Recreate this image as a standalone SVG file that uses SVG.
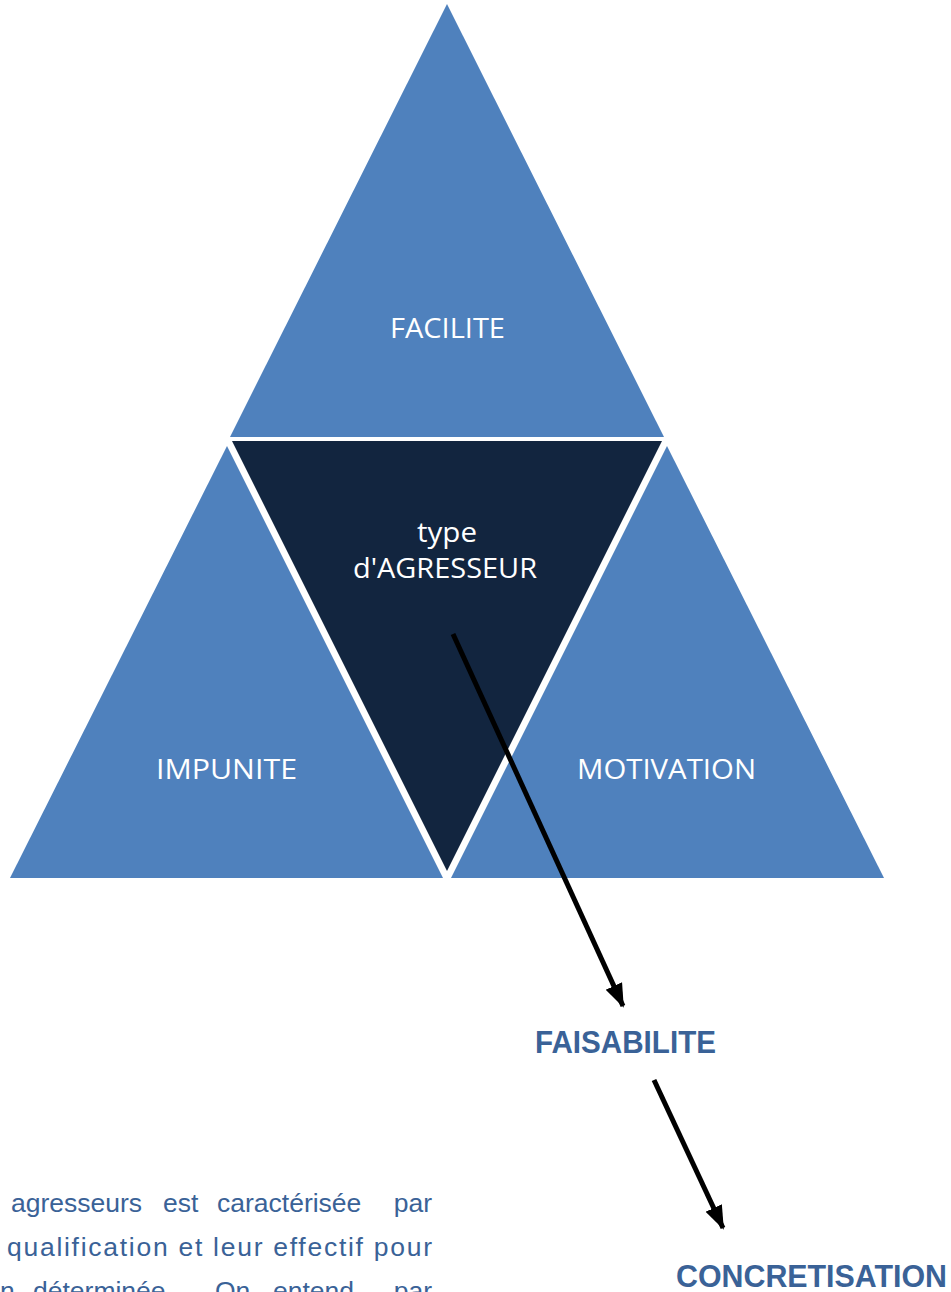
<svg xmlns="http://www.w3.org/2000/svg" width="951" height="1292" viewBox="0 0 951 1292">
<defs>
<style>
.tri{fill:#4F81BD;}
.dark{fill:#12253F;}
.lbl{font-family:"Open Sans","Liberation Sans",Arial,sans-serif;font-size:27px;fill:#FFFFFF;text-anchor:middle;}
.out{font-family:"Liberation Sans",Arial,sans-serif;font-size:31px;font-weight:bold;fill:#3A6297;text-anchor:middle;}
.para{font-family:"Liberation Sans",Arial,sans-serif;font-size:26.5px;fill:#3A6297;}
.end{text-anchor:end;}
.conn{stroke:#000000;stroke-width:5;fill:none;}
</style>
<marker id="ah" markerUnits="userSpaceOnUse" markerWidth="24" markerHeight="24" viewBox="0 0 24 24" refX="22" refY="12" orient="auto">
<path d="M0,3 L24,12 L0,21 Z" fill="#000000"/>
</marker>
</defs>
<rect width="951" height="1292" fill="#FFFFFF"/>
<g id="facilite">
<polygon class="tri" points="447,4 230,437 664,437"/>
<text class="lbl" x="447.5" y="338" textLength="115" lengthAdjust="spacingAndGlyphs">FACILITE</text>
</g>
<g id="impunite">
<polygon class="tri" points="227,446 10,878 443,878"/>
<text class="lbl" x="226.5" y="779" textLength="141" lengthAdjust="spacingAndGlyphs">IMPUNITE</text>
</g>
<g id="motivation">
<polygon class="tri" points="667,446 451,878 884,878"/>
<text class="lbl" x="666.5" y="779" textLength="179" lengthAdjust="spacingAndGlyphs">MOTIVATION</text>
</g>
<g id="agresseur">
<polygon class="dark" points="232,441 662,441 447,871"/>
<text class="lbl" x="447" y="542" textLength="60" lengthAdjust="spacingAndGlyphs">type</text>
<text class="lbl" x="445" y="578" textLength="184" lengthAdjust="spacingAndGlyphs">d'AGRESSEUR</text>
</g>
<g id="connectors">
<line class="conn" x1="453" y1="634" x2="623" y2="1006" marker-end="url(#ah)"/>
<line class="conn" x1="654" y1="1080" x2="723" y2="1228" marker-end="url(#ah)"/>
</g>
<g id="faisabilite">
<text class="out" x="625.5" y="1053" textLength="181" lengthAdjust="spacingAndGlyphs">FAISABILITE</text>
</g>
<g id="concretisation">
<text class="out" x="811.5" y="1287" textLength="271" lengthAdjust="spacingAndGlyphs">CONCRETISATION</text>
</g>
<g id="paragraph">
<text class="para" y="1212"><tspan x="11">agresseurs</tspan><tspan x="163">est</tspan><tspan x="217">caractérisée</tspan></text>
<text class="para end" x="432" y="1212">par</text>
<text class="para" x="7" y="1256" textLength="425" lengthAdjust="spacing">qualification et leur effectif pour</text>
<text class="para" y="1300"><tspan x="0">n</tspan><tspan x="33">déterminée.</tspan><tspan x="215">On</tspan><tspan x="273">entend</tspan></text>
<text class="para end" x="432" y="1300">par</text>
</g>
</svg>
